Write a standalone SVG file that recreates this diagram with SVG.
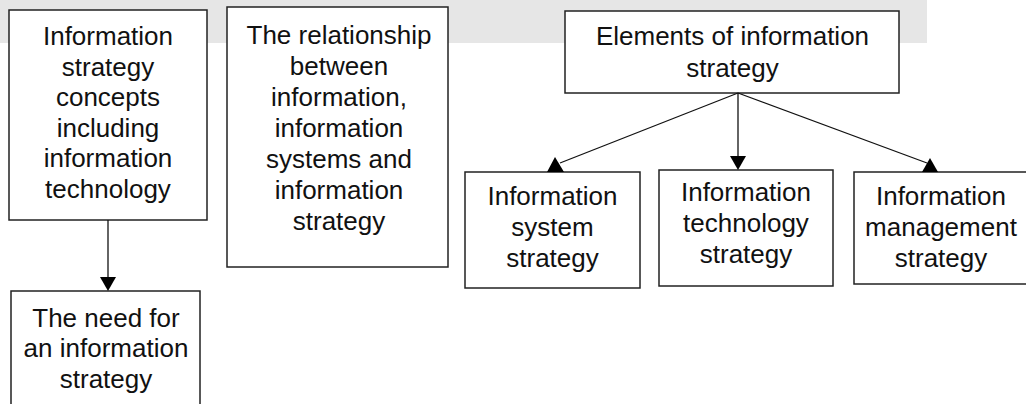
<svg xmlns="http://www.w3.org/2000/svg" width="1026" height="404" viewBox="0 0 1026 404">
<style>
.box{fill:#fff;stroke:#222;stroke-width:1.5}
.t{font-family:"Liberation Sans",Arial,sans-serif;font-size:26px;fill:#111;text-anchor:middle}
.c{stroke:#111;stroke-width:1.3;fill:none}
.h{fill:#000}
</style>
<rect x="0" y="0" width="927" height="43" fill="#e6e6e6"/>
<g id="n1">
<rect class="box" x="9" y="10" width="198" height="210"/>
<text class="t"><tspan x="108" y="45">Information</tspan><tspan x="108" y="75.5">strategy</tspan><tspan x="108" y="106">concepts</tspan><tspan x="108" y="136.5">including</tspan><tspan x="108" y="167">information</tspan><tspan x="108" y="197.5">technology</tspan></text>
</g>
<g id="n2">
<rect class="box" x="227" y="7" width="221" height="260"/>
<text class="t"><tspan x="339" y="44">The relationship</tspan><tspan x="339" y="75">between</tspan><tspan x="339" y="106">information,</tspan><tspan x="339" y="137">information</tspan><tspan x="339" y="168">systems and</tspan><tspan x="339" y="199">information</tspan><tspan x="339" y="230">strategy</tspan></text>
</g>
<g id="n3">
<rect class="box" x="565" y="11" width="334" height="82"/>
<text class="t"><tspan x="732.5" y="45">Elements of information</tspan><tspan x="732.5" y="77">strategy</tspan></text>
</g>
<g id="n4">
<rect class="box" x="11" y="291" width="189" height="130"/>
<text class="t"><tspan x="106" y="327">The need for</tspan><tspan x="106" y="357">an information</tspan><tspan x="106" y="388">strategy</tspan></text>
</g>
<g id="n5">
<rect class="box" x="465" y="172" width="175" height="116"/>
<text class="t"><tspan x="552.5" y="205">Information</tspan><tspan x="552.5" y="236">system</tspan><tspan x="552.5" y="267">strategy</tspan></text>
</g>
<g id="n6">
<rect class="box" x="659" y="170" width="174" height="116"/>
<text class="t"><tspan x="746" y="201">Information</tspan><tspan x="746" y="232">technology</tspan><tspan x="746" y="263">strategy</tspan></text>
</g>
<g id="n7">
<rect class="box" x="854" y="172" width="180" height="112"/>
<text class="t"><tspan x="941" y="205">Information</tspan><tspan x="941" y="236">management</tspan><tspan x="941" y="267">strategy</tspan></text>
</g>
<g id="connectors">
<line class="c" x1="108" y1="220" x2="108" y2="278"/>
<polygon class="h" points="100,277 116,277 108,291"/>
<line class="c" x1="738" y1="93" x2="738" y2="157"/>
<polygon class="h" points="730,156 746,156 738,170"/>
<line class="c" x1="738" y1="93" x2="560" y2="163"/>
<polygon class="h" points="555,157 547,172 564,172"/>
<line class="c" x1="738" y1="93" x2="927" y2="163"/>
<polygon class="h" points="930,158 922,172 938,172"/>
</g>
</svg>
